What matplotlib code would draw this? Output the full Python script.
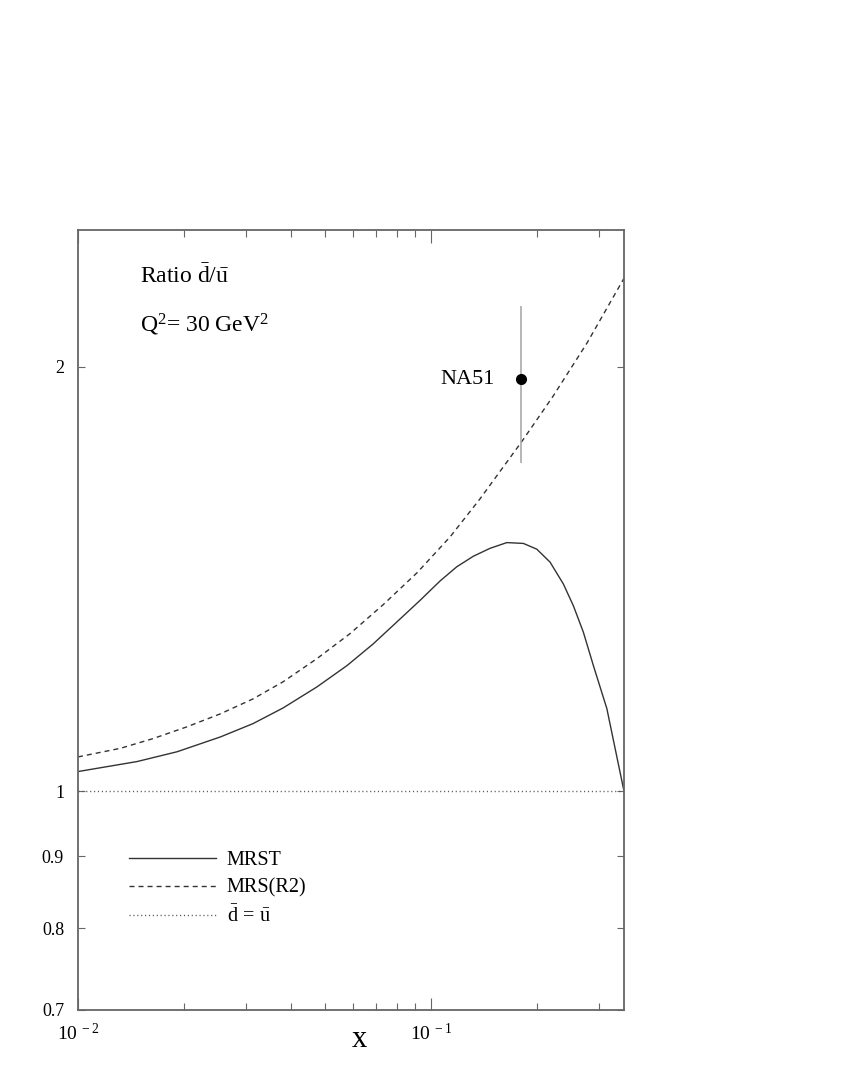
import matplotlib
matplotlib.use("Agg")
import matplotlib.pyplot as plt
from matplotlib.ticker import FixedLocator, NullFormatter

plt.rcParams['font.family'] = ['Liberation Serif', 'DejaVu Serif']
plt.rcParams['mathtext.fontset'] = 'custom'
plt.rcParams['mathtext.rm'] = 'Liberation Serif'
plt.rcParams['mathtext.it'] = 'Liberation Serif:italic'
plt.rcParams['lines.scale_dashes'] = False

# MRST curve
mrst_x = [0.0100, 0.0147, 0.0191, 0.0253, 0.0313, 0.0381, 0.0475, 0.0578, 0.0685,
          0.0801, 0.0931, 0.1061, 0.1183, 0.1318, 0.1469, 0.1639, 0.1826, 0.1993,
          0.2173, 0.2370, 0.2530, 0.2700, 0.2883, 0.3147, 0.3521]
mrst_y = [1.033, 1.050, 1.067, 1.093, 1.117, 1.146, 1.186, 1.228, 1.272,
          1.319, 1.366, 1.410, 1.443, 1.468, 1.487, 1.501, 1.499, 1.485,
          1.454, 1.403, 1.354, 1.297, 1.228, 1.145, 1.000]

# MRS(R2) curve
mrs_x = [0.0100, 0.0132, 0.0163, 0.0203, 0.0253, 0.0313, 0.0381, 0.0475, 0.0590,
         0.0731, 0.0913, 0.1132, 0.1376, 0.1810, 0.2216, 0.2766, 0.3521]
mrs_y = [1.058, 1.073, 1.090, 1.111, 1.135, 1.163, 1.196, 1.242, 1.294,
         1.356, 1.429, 1.515, 1.612, 1.771, 1.906, 2.079, 2.311]

# d-bar = u-bar reference
ref_x = [0.0100, 0.3521]
ref_y = [1.0, 1.0]

# NA51 data point
na51_x = [0.18]
na51_y = [1.96]
na51_err = [0.25]

xlim = (0.01, 0.352)
ylim = (0.7, 2.5)
ytick_vals = [0.7, 0.8, 0.9, 1, 2]
ytick_labels = ['0.7', '0.8', '0.9', '1', '2']
xtick_major = [0.01, 0.1]
xtick_labels = [r'$10^{\ -2}$', r'$10^{\ -1}$']
xtick_minor = [0.02, 0.03, 0.04, 0.05, 0.06, 0.07, 0.08, 0.09, 0.2, 0.3]

fig = plt.figure(figsize=(8.42, 10.90), dpi=100)
ax = fig.add_axes([78/842, 1 - 1010/1090, (624 - 78)/842, (1010 - 230)/1090])
ax.set_xscale('log')
ax.set_yscale('log')
ax.set_xlim(*xlim)
ax.set_ylim(*ylim)

line_col = '#333333'
l1, = ax.plot(mrst_x, mrst_y, color=line_col, lw=1.0, ls='-', label='MRST')
l2, = ax.plot(mrs_x, mrs_y, color=line_col, lw=1.0, ls=(0, (3.6, 2.9)), label='MRS(R2)')
l3, = ax.plot(ref_x, ref_y, color='#555555', lw=1.0, ls=(0, (0.8, 2.0)),
              label=r'$\bar{\mathrm{d}}\,=\,\bar{\mathrm{u}}$')

ax.errorbar(na51_x, na51_y, yerr=na51_err, fmt='o', color='black', ms=7,
            ecolor='#aaaaaa', elinewidth=1.2, capsize=0, zorder=5)
ax.text(na51_x[0] * 0.843, na51_y[0], 'NA51', ha='right', va='center', fontsize=16)

ax.text(0.113, 0.932, r'Ratio $\bar{\mathrm{d}}/\bar{\mathrm{u}}$', transform=ax.transAxes,
        fontsize=17, ha='left', va='baseline')
ax.text(0.113, 0.869, r'Q$^2$= 30 GeV$^2$', transform=ax.transAxes,
        fontsize=17, ha='left', va='baseline')

ax.yaxis.set_major_locator(FixedLocator(ytick_vals))
ax.set_yticklabels(ytick_labels)
ax.yaxis.set_minor_locator(FixedLocator([]))
ax.yaxis.set_minor_formatter(NullFormatter())
ax.xaxis.set_major_locator(FixedLocator(xtick_major))
ax.set_xticklabels(xtick_labels)
ax.xaxis.set_minor_locator(FixedLocator(xtick_minor))
ax.xaxis.set_minor_formatter(NullFormatter())

spine_col = '#666666'
for s in ax.spines.values():
    s.set_color(spine_col)
    s.set_linewidth(1.3)
ax.tick_params(axis='x', which='major', direction='in', length=9, width=0.8,
               colors=spine_col, labelcolor='black', labelsize=14, pad=9,
               top=True, bottom=True)
ax.tick_params(axis='x', which='minor', direction='in', length=5, width=0.8,
               colors=spine_col, top=True, bottom=True)
ax.tick_params(axis='y', which='major', direction='in', length=5, width=0.8,
               colors=spine_col, labelcolor='black', labelsize=13, pad=10,
               left=True, right=True)

ax.text(0.515, -0.0474, 'x', transform=ax.transAxes, fontsize=22,
        ha='center', va='baseline')

leg = ax.legend(handles=[l1, l2, l3], loc='upper left', bbox_to_anchor=(0.0934, 0.204),
                frameon=False, fontsize=14.5, handlelength=4.3, handletextpad=0.55,
                labelspacing=0.42, borderaxespad=0, borderpad=0)

fig.savefig('out.png', dpi=100)
